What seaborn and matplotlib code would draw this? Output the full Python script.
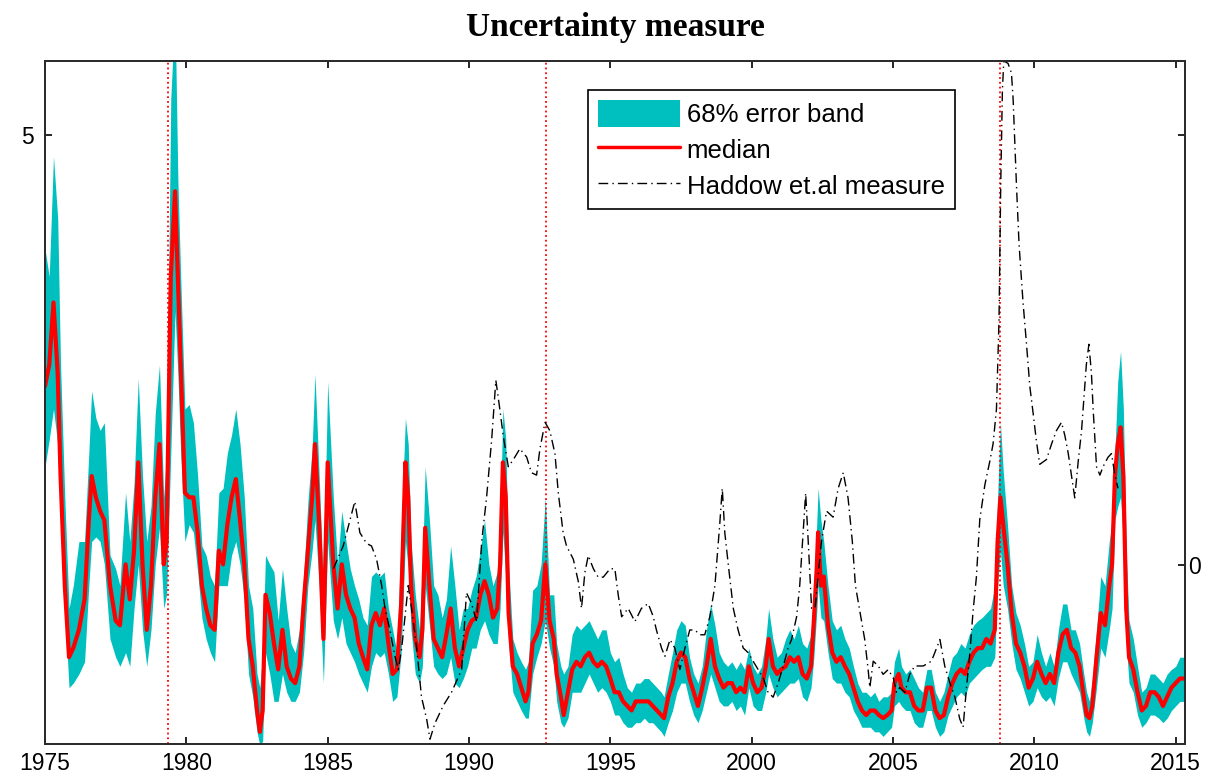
import matplotlib
matplotlib.use("Agg")
import matplotlib.pyplot as plt
import seaborn as sns
import pandas as pd
from matplotlib.patches import Patch
from matplotlib.lines import Line2D

# ---------------- data ----------------
years = [
    1975.0, 1975.15, 1975.3, 1975.45, 1975.55, 1975.7, 1975.85, 1976.0, 1976.2, 1976.4,
    1976.55, 1976.65, 1976.8, 1976.95, 1977.1, 1977.3, 1977.5, 1977.65, 1977.85, 1978.0,
    1978.15, 1978.3, 1978.45, 1978.6, 1978.75, 1978.9, 1979.05, 1979.2, 1979.3, 1979.45,
    1979.6, 1979.7, 1979.8, 1979.95, 1980.1, 1980.25, 1980.4, 1980.55, 1980.7, 1980.85,
    1981.0, 1981.15, 1981.3, 1981.45, 1981.6, 1981.75, 1981.9, 1982.05, 1982.2, 1982.35,
    1982.5, 1982.6, 1982.7, 1982.8, 1982.95, 1983.1, 1983.25, 1983.4, 1983.55, 1983.7,
    1983.85, 1984.0, 1984.15, 1984.3, 1984.45, 1984.55, 1984.7, 1984.85, 1985.0, 1985.2,
    1985.35, 1985.5, 1985.65, 1985.8, 1985.95, 1986.1, 1986.25, 1986.4, 1986.55, 1986.7,
    1986.85, 1987.0, 1987.15, 1987.3, 1987.45, 1987.6, 1987.75, 1987.85, 1987.95, 1988.1,
    1988.25, 1988.35, 1988.45, 1988.6, 1988.75, 1988.9, 1989.05, 1989.2, 1989.35, 1989.5,
    1989.65, 1989.8, 1989.95, 1990.1, 1990.25, 1990.4, 1990.55, 1990.7, 1990.85, 1991.0,
    1991.1, 1991.2, 1991.3, 1991.4, 1991.55, 1991.7, 1991.85, 1992.0, 1992.1, 1992.25,
    1992.4, 1992.55, 1992.7, 1992.85, 1993.0, 1993.1, 1993.25, 1993.35, 1993.5, 1993.65,
    1993.8, 1993.95, 1994.1, 1994.25, 1994.4, 1994.55, 1994.7, 1994.85, 1995.0, 1995.15,
    1995.3, 1995.45, 1995.6, 1995.75, 1995.9, 1996.05, 1996.2, 1996.35, 1996.5, 1996.65,
    1996.8, 1996.9, 1997.05, 1997.2, 1997.35, 1997.5, 1997.65, 1997.8, 1997.95, 1998.1,
    1998.25, 1998.4, 1998.55, 1998.7, 1998.85, 1999.0, 1999.15, 1999.3, 1999.45, 1999.6,
    1999.75, 1999.9, 2000.05, 2000.2, 2000.35, 2000.5, 2000.6, 2000.75, 2000.9, 2001.05,
    2001.2, 2001.35, 2001.5, 2001.65, 2001.8, 2001.95, 2002.1, 2002.2, 2002.3, 2002.35,
    2002.45, 2002.55, 2002.7, 2002.85, 2003.0, 2003.15, 2003.3, 2003.45, 2003.6, 2003.75,
    2003.9, 2004.05, 2004.2, 2004.35, 2004.5, 2004.65, 2004.8, 2004.95, 2005.05, 2005.2,
    2005.3, 2005.45, 2005.6, 2005.75, 2005.9, 2006.05, 2006.2, 2006.35, 2006.5, 2006.65,
    2006.8, 2006.95, 2007.1, 2007.25, 2007.4, 2007.55, 2007.7, 2007.85, 2008.0, 2008.15,
    2008.3, 2008.45, 2008.6, 2008.7, 2008.8, 2008.9, 2009.05, 2009.2, 2009.35, 2009.5,
    2009.65, 2009.8, 2009.95, 2010.1, 2010.25, 2010.4, 2010.55, 2010.7, 2010.85, 2011.0,
    2011.15, 2011.3, 2011.45, 2011.6, 2011.75, 2011.85, 2011.95, 2012.05, 2012.2, 2012.35,
    2012.5, 2012.65, 2012.75, 2012.85, 2012.95, 2013.05, 2013.15, 2013.25, 2013.35, 2013.5,
    2013.65, 2013.8, 2013.95, 2014.1, 2014.25, 2014.4, 2014.55, 2014.7, 2014.85, 2015.0,
    2015.15, 2015.3,
]

upper = [
    4.25, 4.07, 4.86, 4.45, 3.49, 2.62, 1.89, 2.04, 2.33, 2.33,
    2.91, 3.32, 3.14, 3.06, 3.11, 2.24, 2.15, 2.04, 2.65, 2.33,
    2.71, 3.40, 2.76, 2.33, 2.56, 3.17, 3.49, 2.62, 2.91, 5.24,
    5.82, 4.71, 4.07, 3.20, 3.23, 3.11, 2.76, 2.30, 2.24, 2.10,
    2.04, 2.65, 2.68, 2.91, 3.03, 3.20, 2.97, 2.62, 2.04, 1.89,
    1.46, 1.37, 1.60, 2.24, 2.18, 2.13, 1.81, 2.15, 1.89, 1.66,
    1.60, 1.75, 2.10, 2.59, 2.94, 3.43, 2.76, 2.04, 3.38, 2.62,
    2.18, 2.53, 2.33, 2.15, 2.04, 1.95, 1.83, 1.78, 2.10, 2.13,
    2.10, 2.13, 1.89, 1.75, 1.60, 2.39, 3.14, 2.97, 2.33, 1.98,
    1.75, 2.15, 2.82, 2.47, 2.04, 1.98, 1.83, 1.95, 2.30, 2.04,
    1.75, 1.89, 1.89, 2.01, 2.10, 2.27, 2.47, 2.18, 2.04, 2.13,
    2.47, 3.20, 3.00, 2.18, 1.69, 1.60, 1.54, 1.49, 1.54, 2.01,
    2.04, 2.18, 2.62, 1.98, 1.98, 1.66, 1.51, 1.46, 1.51, 1.72,
    1.78, 1.75, 1.78, 1.81, 1.75, 1.69, 1.75, 1.75, 1.60, 1.54,
    1.57, 1.46, 1.37, 1.34, 1.40, 1.40, 1.43, 1.43, 1.40, 1.37,
    1.34, 1.31, 1.46, 1.60, 1.75, 1.81, 1.78, 1.57, 1.46, 1.40,
    1.51, 1.75, 1.92, 1.78, 1.60, 1.54, 1.51, 1.54, 1.49, 1.54,
    1.49, 1.63, 1.51, 1.46, 1.51, 1.69, 1.89, 1.69, 1.57, 1.60,
    1.69, 1.75, 1.69, 1.78, 1.66, 1.63, 1.72, 2.04, 2.44, 2.68,
    2.47, 2.33, 2.04, 1.81, 1.75, 1.78, 1.69, 1.63, 1.51, 1.40,
    1.34, 1.34, 1.31, 1.34, 1.28, 1.31, 1.31, 1.34, 1.54, 1.63,
    1.51, 1.46, 1.49, 1.43, 1.37, 1.34, 1.49, 1.49, 1.34, 1.28,
    1.34, 1.46, 1.57, 1.60, 1.66, 1.63, 1.72, 1.78, 1.81, 1.83,
    1.86, 1.89, 2.04, 2.62, 3.11, 2.79, 2.44, 2.04, 1.86, 1.78,
    1.66, 1.51, 1.54, 1.72, 1.60, 1.51, 1.60, 1.51, 1.75, 1.92,
    1.92, 1.75, 1.75, 1.66, 1.46, 1.34, 1.28, 1.43, 1.75, 2.10,
    2.04, 2.33, 2.47, 2.91, 3.38, 3.58, 3.20, 2.27, 1.81, 1.69,
    1.51, 1.34, 1.37, 1.46, 1.46, 1.43, 1.40, 1.46, 1.49, 1.51,
    1.57, 1.57,
]

median = [
    3.35, 3.49, 3.90, 3.43, 2.76, 2.04, 1.57, 1.63, 1.75, 1.95,
    2.47, 2.76, 2.62, 2.53, 2.47, 2.04, 1.81, 1.78, 2.18, 1.95,
    2.27, 2.85, 2.18, 1.75, 2.04, 2.62, 2.97, 2.18, 2.33, 4.07,
    4.63, 4.07, 3.49, 2.65, 2.62, 2.62, 2.39, 2.04, 1.89, 1.78,
    1.75, 2.27, 2.18, 2.44, 2.62, 2.74, 2.47, 2.18, 1.69, 1.51,
    1.22, 1.08, 1.22, 1.98, 1.86, 1.66, 1.49, 1.75, 1.51, 1.43,
    1.40, 1.51, 1.92, 2.27, 2.62, 2.97, 2.44, 1.69, 2.85, 2.18,
    1.89, 2.18, 1.98, 1.89, 1.83, 1.66, 1.57, 1.49, 1.78, 1.86,
    1.78, 1.89, 1.66, 1.46, 1.49, 1.92, 2.85, 2.62, 2.04, 1.69,
    1.57, 1.75, 2.42, 2.04, 1.69, 1.63, 1.57, 1.72, 1.89, 1.63,
    1.51, 1.63, 1.75, 1.81, 1.83, 1.98, 2.07, 1.98, 1.83, 1.89,
    2.18, 2.85, 2.62, 1.86, 1.51, 1.46, 1.37, 1.28, 1.34, 1.66,
    1.72, 1.81, 2.18, 1.81, 1.69, 1.46, 1.31, 1.19, 1.34, 1.49,
    1.54, 1.51, 1.57, 1.60, 1.54, 1.51, 1.54, 1.51, 1.43, 1.34,
    1.34, 1.28, 1.25, 1.22, 1.28, 1.28, 1.28, 1.28, 1.25, 1.22,
    1.19, 1.17, 1.31, 1.40, 1.54, 1.60, 1.57, 1.43, 1.34, 1.25,
    1.37, 1.51, 1.69, 1.51, 1.43, 1.37, 1.40, 1.40, 1.34, 1.37,
    1.34, 1.51, 1.40, 1.34, 1.37, 1.51, 1.69, 1.51, 1.46, 1.49,
    1.51, 1.57, 1.54, 1.57, 1.46, 1.43, 1.51, 1.81, 2.15, 2.39,
    2.04, 2.10, 1.78, 1.60, 1.54, 1.57, 1.51, 1.46, 1.37, 1.28,
    1.22, 1.19, 1.22, 1.22, 1.19, 1.17, 1.19, 1.22, 1.40, 1.46,
    1.37, 1.34, 1.34, 1.25, 1.22, 1.22, 1.37, 1.37, 1.22, 1.17,
    1.19, 1.31, 1.40, 1.46, 1.49, 1.46, 1.54, 1.60, 1.63, 1.63,
    1.69, 1.66, 1.75, 2.33, 2.62, 2.44, 2.18, 1.86, 1.66, 1.60,
    1.51, 1.37, 1.43, 1.54, 1.46, 1.40, 1.46, 1.40, 1.60, 1.72,
    1.75, 1.63, 1.60, 1.51, 1.31, 1.19, 1.17, 1.25, 1.57, 1.86,
    1.78, 2.04, 2.18, 2.76, 2.97, 3.08, 2.76, 1.89, 1.57, 1.49,
    1.34, 1.22, 1.25, 1.34, 1.34, 1.31, 1.25, 1.31, 1.37, 1.40,
    1.43, 1.43,
]

lower = [
    2.82, 3.00, 3.20, 2.97, 2.47, 1.89, 1.37, 1.40, 1.46, 1.54,
    2.04, 2.33, 2.36, 2.33, 2.18, 1.69, 1.57, 1.51, 1.60, 1.51,
    1.89, 2.18, 1.75, 1.51, 1.75, 2.18, 2.42, 1.89, 1.98, 2.91,
    3.84, 3.43, 2.91, 2.33, 2.44, 2.39, 2.13, 1.83, 1.69, 1.60,
    1.54, 2.04, 2.04, 2.04, 2.24, 2.33, 2.18, 1.95, 1.46, 1.31,
    1.08, 0.99, 1.02, 1.60, 1.46, 1.28, 1.28, 1.46, 1.34, 1.28,
    1.28, 1.34, 1.60, 2.04, 2.27, 2.47, 2.04, 1.40, 2.33, 1.81,
    1.69, 1.83, 1.66, 1.60, 1.54, 1.46, 1.40, 1.34, 1.51, 1.60,
    1.57, 1.60, 1.46, 1.28, 1.31, 1.60, 2.33, 2.15, 1.75, 1.46,
    1.40, 1.51, 2.04, 1.78, 1.51, 1.46, 1.43, 1.46, 1.57, 1.40,
    1.37, 1.43, 1.51, 1.63, 1.63, 1.75, 1.81, 1.72, 1.66, 1.66,
    1.89, 2.39, 2.10, 1.66, 1.34, 1.28, 1.22, 1.17, 1.17, 1.46,
    1.57, 1.66, 1.81, 1.63, 1.51, 1.28, 1.14, 1.11, 1.17, 1.34,
    1.34, 1.34, 1.40, 1.46, 1.40, 1.34, 1.37, 1.34, 1.28, 1.19,
    1.19, 1.14, 1.11, 1.11, 1.14, 1.14, 1.17, 1.14, 1.14, 1.11,
    1.08, 1.05, 1.14, 1.22, 1.34, 1.40, 1.40, 1.28, 1.19, 1.14,
    1.22, 1.34, 1.46, 1.37, 1.28, 1.25, 1.25, 1.28, 1.22, 1.25,
    1.19, 1.37, 1.25, 1.22, 1.22, 1.34, 1.46, 1.37, 1.31, 1.34,
    1.37, 1.40, 1.40, 1.43, 1.31, 1.28, 1.37, 1.57, 1.86, 2.04,
    1.83, 1.81, 1.60, 1.43, 1.40, 1.40, 1.34, 1.31, 1.22, 1.17,
    1.11, 1.11, 1.11, 1.08, 1.08, 1.05, 1.08, 1.11, 1.25, 1.28,
    1.25, 1.22, 1.22, 1.14, 1.11, 1.11, 1.22, 1.22, 1.11, 1.05,
    1.08, 1.19, 1.25, 1.31, 1.34, 1.31, 1.40, 1.43, 1.46, 1.49,
    1.51, 1.51, 1.57, 2.04, 2.27, 2.04, 1.89, 1.66, 1.49, 1.43,
    1.34, 1.25, 1.28, 1.37, 1.31, 1.28, 1.31, 1.25, 1.43, 1.54,
    1.54, 1.46, 1.40, 1.34, 1.17, 1.08, 1.05, 1.14, 1.37, 1.63,
    1.57, 1.75, 1.89, 2.47, 2.56, 2.62, 2.33, 1.66, 1.40, 1.34,
    1.19, 1.11, 1.14, 1.19, 1.19, 1.17, 1.14, 1.17, 1.22, 1.25,
    1.28, 1.28,
]

haddow_years = [
    1985.20, 1985.55, 1985.96, 1986.14, 1986.38, 1986.55, 1986.73, 1986.91, 1987.03, 1987.20,
    1987.38, 1987.50, 1987.62, 1987.85, 1987.97, 1988.15, 1988.32, 1988.50, 1988.62, 1988.79,
    1989.09, 1989.38, 1989.74, 1989.91, 1990.09, 1990.27, 1990.45, 1990.62, 1990.80, 1990.95,
    1991.09, 1991.21, 1991.39, 1991.57, 1991.80, 1992.04, 1992.21, 1992.39, 1992.51, 1992.69,
    1992.86, 1993.04, 1993.16, 1993.33, 1993.45, 1993.69, 1993.87, 1993.98, 1994.10, 1994.22,
    1994.40, 1994.57, 1994.75, 1994.99, 1995.16, 1995.28, 1995.40, 1995.63, 1995.87, 1996.10,
    1996.34, 1996.52, 1996.63, 1996.81, 1996.93, 1997.11, 1997.28, 1997.46, 1997.64, 1997.81,
    1997.99, 1998.17, 1998.34, 1998.52, 1998.70, 1998.87, 1998.96, 1999.05, 1999.17, 1999.35,
    1999.52, 1999.70, 1999.88, 2000.05, 2000.23, 2000.41, 2000.58, 2000.76, 2000.94, 2001.12,
    2001.29, 2001.41, 2001.59, 2001.70, 2001.82, 2001.91, 2002.00, 2002.12, 2002.24, 2002.47,
    2002.65, 2002.88, 2003.06, 2003.24, 2003.41, 2003.56, 2003.67, 2003.83, 2004.00, 2004.12,
    2004.18, 2004.30, 2004.48, 2004.65, 2004.83, 2005.01, 2005.12, 2005.24, 2005.42, 2005.59,
    2005.77, 2006.07, 2006.36, 2006.66, 2006.83, 2007.01, 2007.19, 2007.36, 2007.48, 2007.60,
    2007.72, 2007.83, 2007.95, 2008.07, 2008.25, 2008.42, 2008.54, 2008.66, 2008.75, 2008.81,
    2008.87, 2008.92, 2009.07, 2009.19, 2009.25, 2009.37, 2009.46, 2009.60, 2009.72, 2009.84,
    2009.96, 2010.07, 2010.19, 2010.43, 2010.61, 2010.78, 2010.96, 2011.08, 2011.20, 2011.31,
    2011.43, 2011.55, 2011.67, 2011.75, 2011.84, 2011.93, 2012.02, 2012.08, 2012.20, 2012.32,
    2012.43, 2012.61, 2012.73, 2012.85, 2012.96,
]

haddow = [
    -0.03, 0.16, 0.53, 0.27, 0.18, 0.16, 0.05, -0.17, -0.36, -0.54,
    -0.76, -0.87, -0.69, -0.17, -0.36, -0.69, -1.10, -1.28, -1.45, -1.32,
    -1.17, -1.06, -0.87, -0.23, -0.32, -0.47, 0.20, 0.56, 1.04, 1.54,
    1.30, 1.08, 0.82, 0.88, 0.97, 0.90, 0.77, 0.75, 0.97, 1.19,
    1.12, 0.93, 0.60, 0.27, 0.16, 0.05, -0.14, -0.36, -0.06, 0.08,
    -0.03, -0.10, -0.10, -0.03, -0.03, -0.25, -0.43, -0.36, -0.47, -0.36,
    -0.32, -0.43, -0.54, -0.69, -0.76, -0.62, -0.69, -0.87, -0.69, -0.54,
    -0.54, -0.58, -0.58, -0.43, -0.17, 0.34, 0.64, 0.27, 0.01, -0.36,
    -0.54, -0.69, -0.73, -0.80, -0.87, -0.94, -1.06, -1.10, -0.98, -0.84,
    -0.69, -0.62, -0.43, -0.17, 0.27, 0.60, 0.20, -0.36, -0.36, 0.20,
    0.45, 0.40, 0.64, 0.77, 0.56, 0.20, -0.17, -0.39, -0.62, -0.87,
    -1.02, -0.80, -0.84, -0.91, -0.87, -0.94, -1.06, -1.02, -1.06, -0.91,
    -0.84, -0.84, -0.80, -0.62, -0.84, -0.98, -1.10, -1.28, -1.35, -1.02,
    -0.73, -0.39, -0.10, 0.38, 0.67, 0.86, 1.01, 1.30, 2.04, 3.15,
    3.96, 4.20, 4.18, 4.10, 3.88, 3.15, 2.67, 2.19, 1.85, 1.49,
    1.26, 1.04, 0.84, 0.88, 1.01, 1.12, 1.19, 1.08, 0.93, 0.75,
    0.56, 0.86, 1.12, 1.38, 1.67, 1.84, 1.60, 1.30, 0.82, 0.75,
    0.82, 0.90, 0.93, 0.75, 0.64,
]

marker_years = [1979.35, 1992.72, 2008.78]
xtick_years = [1975, 1980, 1985, 1990, 1995, 2000, 2005, 2010, 2015]
left_ticks = [5]
right_ticks = [0]
legend_labels = ["68% error band", "median", "Haddow et.al measure"]

# ---------------- styling ----------------
sns.set_style("white")
plt.rcParams["font.family"] = ["Liberation Sans", "DejaVu Sans"]
plt.rcParams["text.color"] = "black"

BAND = "#00BFBF"
SPINE = "#2b2b2b"
DASHDOT = (0, (7, 3, 1, 3))

fig = plt.figure(figsize=(12.05, 7.84), dpi=100)
ax = fig.add_axes([45 / 1205, 40 / 784, 1140 / 1205, 683 / 784])

df = pd.DataFrame({"year": years, "upper": upper, "median": median, "lower": lower})
ax.fill_between(df["year"], df["lower"], df["upper"], color=BAND, linewidth=0, zorder=1)
sns.lineplot(data=df, x="year", y="median", ax=ax, color="red", linewidth=3,
             estimator=None, zorder=2)
for yr in marker_years:
    ax.axvline(yr, color="red", linestyle=":", linewidth=1.3, zorder=3)

ax.set_xlim(1975, 2015.33)
ax.set_ylim(1.0, 5.486)
ax.set_xticks(xtick_years)
ax.set_yticks(left_ticks)
ax.set_xlabel("")
ax.set_ylabel("")

ax2 = ax.twinx()
dh = pd.DataFrame({"year": haddow_years, "haddow": haddow})
sns.lineplot(data=dh, x="year", y="haddow", ax=ax2, color="black", linewidth=1.0,
             linestyle=DASHDOT, estimator=None)
ax2.set_ylim(-1.49, 4.2)
ax2.set_yticks(right_ticks)
ax2.set_ylabel("")
ax2.set_xlim(1975, 2015.33)

ax.tick_params(axis="x", direction="in", length=5, width=1.2, labelsize=16.5,
               top=True, bottom=True, pad=6, colors="black")
ax.tick_params(axis="y", direction="in", length=5, width=1.2, labelsize=16.5,
               left=True, right=True, labelright=False, pad=8, colors="black")
ax2.tick_params(axis="y", direction="in", length=5, width=1.2, labelsize=16.5,
                right=True, left=False, pad=2, colors="black")

for a in (ax, ax2):
    for s in a.spines.values():
        s.set_linewidth(1.3)
        s.set_color(SPINE)

handles = [
    Patch(facecolor=BAND, edgecolor="none", label=legend_labels[0]),
    Line2D([], [], color="red", linewidth=2.5, label=legend_labels[1]),
    Line2D([], [], color="black", linewidth=1.0, linestyle=DASHDOT, label=legend_labels[2]),
]
leg = ax2.legend(handles=handles, loc="upper left", bbox_to_anchor=(0.476, 0.9575),
                 frameon=True, fancybox=False, edgecolor="black", framealpha=1,
                 fontsize=18.5, handlelength=3.2, handleheight=1.2, handletextpad=0.25,
                 borderpad=0.4, labelspacing=0.35, borderaxespad=0)
leg.get_frame().set_linewidth(1.2)
for t in leg.get_texts():
    t.set_color("black")

ax.set_title("Uncertainty measure", fontfamily="Liberation Serif", fontweight="bold",
             fontsize=24, pad=18, color="black")

fig.savefig("out.png", dpi=100, facecolor="white")
